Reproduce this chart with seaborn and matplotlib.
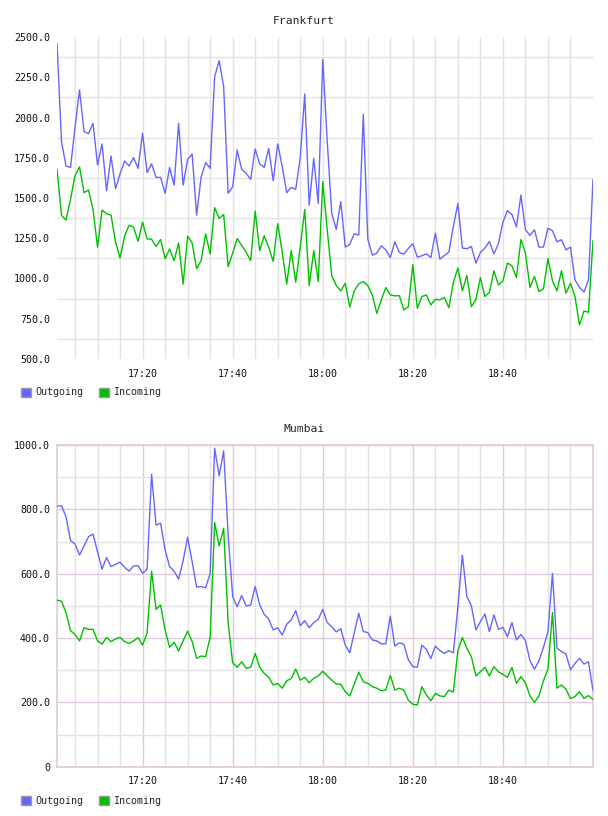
import numpy as np
import pandas as pd
import matplotlib
matplotlib.use("Agg")
import matplotlib.pyplot as plt
import matplotlib.dates as mdates
from matplotlib.patches import Patch
from matplotlib.ticker import FuncFormatter, FixedLocator
import seaborn as sns

# one sample per minute, 17:01 .. 19:00
times = pd.date_range("2024-01-01 17:01", periods=120, freq="min")

frankfurt_out = [
    2460, 1850, 1699, 1689, 1940, 2171, 1912, 1900, 1964, 1705,
    1836, 1546, 1761, 1558, 1650, 1730, 1699, 1751, 1684, 1902,
    1658, 1712, 1628, 1628, 1529, 1690, 1580, 1964, 1580, 1740,
    1773, 1393, 1632, 1720, 1684, 2253, 2353, 2191, 1529, 1570,
    1798, 1678, 1653, 1616, 1804, 1712, 1690, 1808, 1607, 1836,
    1695, 1533, 1566, 1554, 1747, 2146, 1455, 1747, 1466, 2361,
    1850, 1402, 1305, 1478, 1195, 1212, 1278, 1270, 2019, 1245,
    1145, 1157, 1203, 1178, 1130, 1228, 1162, 1151, 1187, 1216,
    1132, 1141, 1153, 1130, 1282, 1120, 1143, 1164, 1324, 1466,
    1189, 1185, 1199, 1095, 1162, 1189, 1230, 1153, 1216, 1349,
    1422, 1397, 1320, 1518, 1303, 1268, 1303, 1195, 1195, 1312,
    1297, 1228, 1241, 1178, 1195, 991, 945, 916, 991, 1616,
]
frankfurt_in = [
    1679, 1392, 1363, 1492, 1638, 1694, 1533, 1550, 1429, 1194,
    1425, 1402, 1394, 1227, 1127, 1263, 1331, 1319, 1231, 1350,
    1246, 1244, 1198, 1242, 1123, 1183, 1111, 1221, 965, 1263,
    1221, 1061, 1111, 1277, 1152, 1440, 1373, 1398, 1073, 1158,
    1248, 1206, 1163, 1111, 1419, 1173, 1265, 1194, 1106, 1340,
    1165, 965, 1173, 977, 1194, 1429, 956, 1173, 981, 1602,
    1300, 1019, 956, 923, 971, 823, 923, 967, 981, 956,
    898, 783, 867, 944, 898, 892, 894, 804, 825, 1086,
    815, 888, 898, 836, 871, 867, 883, 819, 977, 1065,
    923, 1019, 825, 871, 1006, 888, 913, 1048, 960, 985,
    1096, 1079, 1006, 1242, 1158, 944, 1013, 919, 936, 1123,
    985, 923, 1048, 908, 971, 888, 711, 798, 790, 1236,
]
mumbai_out = [
    810, 811, 777, 703, 692, 658, 686, 715, 723, 668,
    614, 650, 622, 629, 636, 620, 608, 624, 625, 601,
    614, 909, 751, 757, 674, 622, 608, 583, 640, 713,
    637, 558, 560, 556, 601, 990, 904, 982, 720, 529,
    497, 532, 500, 502, 560, 503, 474, 459, 425, 432,
    409, 443, 456, 485, 438, 454, 432, 448, 458, 489,
    448, 435, 419, 429, 378, 354, 417, 477, 420, 417,
    394, 391, 382, 382, 468, 375, 385, 381, 332, 311,
    309, 378, 365, 336, 375, 361, 352, 361, 354, 497,
    658, 529, 500, 425, 451, 475, 420, 472, 427, 433,
    404, 448, 394, 411, 392, 330, 303, 329, 371, 420,
    601, 368, 358, 350, 301, 321, 337, 319, 326, 236,
]
mumbai_in = [
    518, 514, 479, 423, 411, 391, 432, 427, 427, 391,
    381, 402, 389, 397, 402, 389, 383, 391, 401, 378,
    415, 608, 489, 503, 425, 371, 387, 360, 391, 422,
    389, 337, 344, 342, 402, 759, 686, 741, 446, 323,
    309, 326, 306, 309, 352, 309, 290, 278, 254, 259,
    244, 267, 274, 304, 269, 278, 261, 275, 282, 297,
    282, 269, 257, 256, 233, 220, 257, 294, 264, 259,
    249, 244, 236, 238, 284, 238, 244, 238, 207, 194,
    192, 249, 223, 205, 228, 220, 218, 238, 232, 361,
    402, 368, 342, 282, 295, 309, 282, 311, 295, 287,
    278, 309, 259, 280, 261, 220, 200, 220, 267, 303,
    479, 244, 254, 241, 212, 218, 233, 212, 221, 209,
]

series_names = ["Outgoing", "Incoming"]
series_colors = ["#6666ff", "#00c000"]

sns.set_style("white")
plt.rcParams["font.family"] = ["DejaVu Sans Mono", "DejaVu Sans"]
FS = 7.2
GRAY = "#e3e3e3"
PURPLE = "#dfcadf"

# grid/tick positions: every 5 min, labels every 20 min (last sample 19:00 has none)
inner = times[:-1]
major_ticks = mdates.date2num([t for t in inner if t.minute % 20 == 0])
minor_ticks = mdates.date2num([t for t in inner if t.minute % 5 == 0 and t.minute % 20 != 0])

fig = plt.figure(figsize=(6.08, 8.16), dpi=100)
W, H = 608.0, 816.0
ax1 = fig.add_axes([57 / W, 1 - 359 / H, 536 / W, 322 / H])
ax2 = fig.add_axes([57 / W, 1 - 766.7 / H, 536 / W, 321.7 / H])


def draw(ax, out_vals, in_vals):
    df = pd.DataFrame({"time": times, "Outgoing": out_vals, "Incoming": in_vals})
    for name, col in zip(series_names, series_colors):
        sns.lineplot(data=df, x="time", y=name, color=col, linewidth=1.0,
                     ax=ax, legend=False, zorder=3)
    ax.set_xlim(times[0], times[-1])
    ax.set_xlabel("")
    ax.set_ylabel("")
    ax.xaxis.set_major_locator(FixedLocator(major_ticks))
    ax.xaxis.set_minor_locator(FixedLocator(minor_ticks))
    ax.xaxis.set_major_formatter(mdates.DateFormatter("%H:%M"))
    ax.tick_params(axis="both", which="both", length=0, labelsize=FS, colors="#111111")
    ax.tick_params(axis="x", pad=7)
    ax.tick_params(axis="y", pad=5)


# Frankfurt
draw(ax1, frankfurt_out, frankfurt_in)
ax1.set_ylim(500, 2500)
ax1.set_yticks(np.arange(500, 2501, 250))
ax1.set_yticks(np.arange(625, 2500, 250), minor=True)
ax1.yaxis.set_major_formatter(FuncFormatter(lambda v, p: f"{v:.1f}"))
ax1.grid(False)
ax1.grid(True, which="minor", axis="y", color=GRAY, linewidth=1)
ax1.grid(True, which="both", axis="x", color=GRAY, linewidth=1)
for s in ax1.spines.values():
    s.set_visible(False)

# Mumbai
draw(ax2, mumbai_out, mumbai_in)
ax2.set_ylim(0, 1000)
ax2.set_yticks(np.arange(0, 1001, 200))
ax2.set_yticks(np.arange(100, 1000, 200), minor=True)
ax2.yaxis.set_major_formatter(FuncFormatter(lambda v, p: "0" if v == 0 else f"{v:.1f}"))
ax2.grid(False)
ax2.grid(True, which="major", axis="both", color=PURPLE, linewidth=1)
ax2.grid(True, which="minor", axis="both", color=GRAY, linewidth=1)
for s in ax2.spines.values():
    s.set_visible(True)
    s.set_color(PURPLE)
    s.set_linewidth(1.2)

for ax in (ax1, ax2):
    ax.set_axisbelow(True)

# titles, centred on the figure
fig.text(304 / W, 1 - 20.5 / H, "Frankfurt", ha="center", va="center", fontsize=8.2)
fig.text(304 / W, 1 - 429 / H, "Mumbai", ha="center", va="center", fontsize=8.2)

# legends below each panel
handles = [Patch(facecolor=c, edgecolor="#999999", linewidth=1.0) for c in series_colors]
for y in (392.5, 800.5):
    fig.legend(handles, series_names, loc="center left",
               bbox_to_anchor=(21 / W, 1 - y / H), ncol=2, frameon=False,
               fontsize=FS, handlelength=1.0, handleheight=1.0,
               handletextpad=0.45, columnspacing=1.55, borderpad=0, borderaxespad=0)

fig.savefig("out.png", dpi=100)
